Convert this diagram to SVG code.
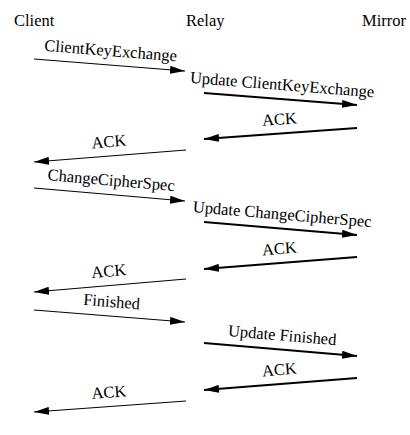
<svg xmlns="http://www.w3.org/2000/svg" width="410" height="435" viewBox="0 0 410 435">
<style>
text{font-family:"Liberation Serif","Times New Roman",serif;font-size:16.5px;fill:#000}
.lbl{text-anchor:middle}
.thin{stroke:#000;stroke-width:1;fill:none;marker-end:url(#ah)}
.thick{stroke:#000;stroke-width:1.8;fill:none;marker-end:url(#ah)}
</style>
<defs>
<marker id="ah" viewBox="0 0 15 8" markerWidth="15" markerHeight="8" refX="15" refY="4" orient="auto" markerUnits="userSpaceOnUse">
<path d="M0,0 L15,4 L0,8 Z" fill="#000"/>
</marker>
</defs>
<rect width="410" height="435" fill="#fff"/>
<g id="client"><text x="14" y="25.5">Client</text></g>
<g id="relay"><text x="186" y="25.5">Relay</text></g>
<g id="mirror"><text x="362" y="25.5">Mirror</text></g>
<g id="connectors">
<line class="thin" x1="34" y1="59" x2="185" y2="71"/>
<line class="thick" x1="204" y1="93" x2="357" y2="105"/>
<line class="thick" x1="357" y1="128" x2="204" y2="139"/>
<line class="thin" x1="186" y1="150" x2="34" y2="162"/>
<line class="thin" x1="34" y1="188" x2="185" y2="201"/>
<line class="thick" x1="204" y1="222" x2="357" y2="235"/>
<line class="thick" x1="357" y1="257" x2="204" y2="269"/>
<line class="thin" x1="186" y1="279" x2="34" y2="292"/>
<line class="thin" x1="34" y1="310" x2="185" y2="322"/>
<line class="thick" x1="204" y1="343" x2="357" y2="356"/>
<line class="thick" x1="357" y1="378" x2="204" y2="390"/>
<line class="thin" x1="186" y1="401" x2="34" y2="412"/>
</g>
<g id="labels">
<text class="lbl" x="109.5" y="56" transform="rotate(4.54 109.5 65)">ClientKeyExchange</text>
<text class="lbl" x="281" y="90" transform="rotate(4.48 280.5 99)">Update ClientKeyExchange</text>
<text class="lbl" x="280.5" y="124.5" transform="rotate(-4.11 280.5 133.5)">ACK</text>
<text class="lbl" x="110" y="147" transform="rotate(-4.51 110 156)">ACK</text>
<text class="lbl" x="110" y="185.5" transform="rotate(4.92 109.5 194.5)">ChangeCipherSpec</text>
<text class="lbl" x="281" y="219.5" transform="rotate(4.86 280.5 228.5)">Update ChangeCipherSpec</text>
<text class="lbl" x="280.5" y="254" transform="rotate(-4.48 280.5 263)">ACK</text>
<text class="lbl" x="110" y="276.5" transform="rotate(-4.89 110 285.5)">ACK</text>
<text class="lbl" x="110.5" y="307" transform="rotate(4.54 109.5 316)">Finished</text>
<text class="lbl" x="281" y="340.5" transform="rotate(4.86 280.5 349.5)">Update Finished</text>
<text class="lbl" x="280.5" y="375" transform="rotate(-4.48 280.5 384)">ACK</text>
<text class="lbl" x="110" y="397.5" transform="rotate(-4.14 110 406.5)">ACK</text>
</g>
</svg>
